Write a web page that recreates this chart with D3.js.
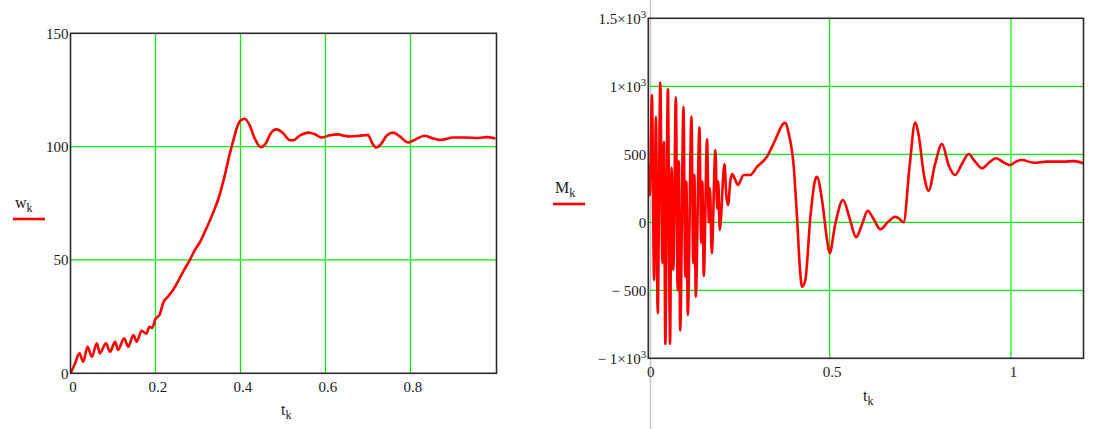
<!DOCTYPE html>
<html>
<head>
<meta charset="utf-8">
<script src="https://cdn.jsdelivr.net/npm/d3@7/dist/d3.min.js"></script>
<style>
  html, body { margin: 0; padding: 0; background: #fff; }
  svg { display: block; }
  text { font-family: "Liberation Serif", "Times New Roman", serif; fill: #1a1a1a; }
</style>
</head>
<body>
<svg id="chart" width="1104" height="429"></svg>
<script>
// ---- Left chart data: w_k vs t_k ----
const wT = [0, 0.010, 0.021, 0.030, 0.040, 0.050, 0.062, 0.069, 0.0835, 0.093, 0.105, 0.112, 0.126, 0.136, 0.148, 0.156, 0.167, 0.178, 0.186, 0.192, 0.200, 0.210, 0.218, 0.230, 0.242, 0.250, 0.260, 0.270, 0.281, 0.290, 0.305, 0.320, 0.336, 0.348, 0.360, 0.375, 0.385, 0.391, 0.400, 0.410, 0.420, 0.435, 0.4475, 0.460, 0.470, 0.485, 0.500, 0.516, 0.524, 0.540, 0.560, 0.575, 0.591, 0.610, 0.630, 0.645, 0.658, 0.680, 0.700, 0.710, 0.720, 0.730, 0.745, 0.760, 0.775, 0.795, 0.810, 0.834, 0.850, 0.869, 0.880, 0.900, 0.930, 0.960, 0.980, 0.995, 1.000];
const wVals = [0, 4, 8.8, 5.1, 11.7, 7.3, 13.2, 8.8, 13.2, 9.5, 13.9, 10.3, 15.4, 11.7, 16.9, 13.9, 18.8, 17.5, 20.5, 20, 24, 26, 31, 34, 37, 39.5, 43, 46.5, 50, 53.5, 58, 64, 71, 77, 85, 97, 104, 108, 111.5, 112.3, 110, 103, 99.8, 101.5, 105.5, 107.6, 106, 102.8, 102.8, 105, 106.2, 105.5, 104, 105, 105.4, 104.8, 104.5, 104.8, 105.2, 101.5, 99.6, 101, 105, 106.2, 104.5, 101.8, 103, 104.8, 103.8, 103, 103.2, 104, 104, 103.8, 104.2, 103.8, 103.6];
const wXTicks = [0, 0.2, 0.4, 0.6, 0.8];
const wXTickLabels = ["0", "0.2", "0.4", "0.6", "0.8"];
const wYTicks = [0, 50, 100, 150];
const wYTickLabels = ["0", "50", "100", "150"];

// ---- Right chart data: M_k vs t_k ----
const mT = [0, 0.004, 0.010, 0.016, 0.021, 0.026, 0.033, 0.039, 0.043, 0.047, 0.054, 0.060, 0.064, 0.069, 0.076, 0.081, 0.084, 0.088, 0.097, 0.102, 0.105, 0.109, 0.119, 0.124, 0.127, 0.131, 0.141, 0.146, 0.149, 0.153, 0.162, 0.167, 0.170, 0.175, 0.185, 0.190, 0.193, 0.197, 0.210, 0.215, 0.220, 0.226, 0.231, 0.240, 0.247, 0.263, 0.281, 0.300, 0.327, 0.350, 0.373, 0.378, 0.387, 0.401, 0.410, 0.419, 0.424, 0.433, 0.447, 0.460, 0.465, 0.479, 0.493, 0.500, 0.515, 0.537, 0.555, 0.573, 0.590, 0.605, 0.620, 0.640, 0.660, 0.681, 0.690, 0.704, 0.720, 0.736, 0.745, 0.760, 0.773, 0.790, 0.810, 0.828, 0.846, 0.865, 0.883, 0.900, 0.920, 0.940, 0.959, 0.980, 0.998, 1.015, 1.030, 1.062, 1.099, 1.145, 1.173, 1.200];
const mVals = [420, 200, 936, -425, 776, -669, 1027, -300, 590, -895, 978, -895, 400, -350, 919, -500, 450, -797, 850, -400, 300, -682, 777, -300, 350, -547, 698, -150, 300, -395, 610, 0, 250, -228, 532, 100, 300, -57, 429, 200, 127, 300, 355, 311, 274, 348, 348, 409, 482, 605, 728, 732, 654, 409, 41, -373, -474, -424, 41, 311, 335, 164, -130, -228, -20, 164, 30, -110, -10, 85, 30, -51, 0, 41, 30, 0, 400, 735, 650, 350, 232, 420, 576, 420, 348, 430, 502, 450, 397, 440, 471, 440, 421, 448, 458, 438, 446, 446, 450, 434];
const mXTicks = [0, 0.5, 1];
const mXTickLabels = ["0", "0.5", "1"];
const mYTicks = [1500, 1000, 500, 0, -500, -1000];
// [mantissa text, superscript or ""]
const mYTickLabels = [["1.5\u00d710", "3"], ["1\u00d710", "3"], ["500", ""], ["0", ""], ["\u2212 500", ""], ["\u2212 1\u00d710", "3"]];

const svg = d3.select("#chart");
const GRID = "#00ee00";
const LINE = "#ff0000";
const FRAME = "#2a2a2a";

function drawChart(cfg) {
  const g = svg.append("g");
  const x = d3.scaleLinear().domain(cfg.xDomain).range(cfg.xRange);
  const y = d3.scaleLinear().domain(cfg.yDomain).range(cfg.yRange);
  const [x0, x1] = cfg.xRange;
  const [yb, yt] = cfg.yRange;

  // grid
  g.selectAll(".vg").data(cfg.xGrid).enter().append("line")
    .attr("x1", d => x(d)).attr("x2", d => x(d))
    .attr("y1", yt).attr("y2", yb)
    .attr("stroke", GRID).attr("stroke-width", 1.2);
  g.selectAll(".hg").data(cfg.yGrid).enter().append("line")
    .attr("x1", x0).attr("x2", x1)
    .attr("y1", d => y(d)).attr("y2", d => y(d))
    .attr("stroke", GRID).attr("stroke-width", 1.2);

  // data line
  const pts = cfg.tx.map((t, i) => [t, cfg.vy[i]]);
  const clipId = "clip" + cfg.id;
  svg.append("clipPath").attr("id", clipId).append("rect")
    .attr("x", x0).attr("y", yt).attr("width", x1 - x0).attr("height", yb - yt);
  g.append("path")
    .datum(pts)
    .attr("clip-path", `url(#${clipId})`)
    .attr("fill", "none")
    .attr("stroke", LINE)
    .attr("stroke-width", 2.6)
    .attr("stroke-linejoin", "round")
    .attr("d", d3.line().curve(d3.curveMonotoneX).x(d => x(d[0])).y(d => y(d[1])));

  // frame
  g.append("rect")
    .attr("x", x0).attr("y", yt).attr("width", x1 - x0).attr("height", yb - yt)
    .attr("fill", "none").attr("stroke", FRAME).attr("stroke-width", 1.6);

  // x tick labels
  g.selectAll(".xt").data(cfg.xTicks).enter().append("text")
    .attr("x", d => x(d) + 2.5)
    .attr("y", yb + 13)
    .attr("dy", "0.35em")
    .attr("text-anchor", "middle")
    .attr("font-size", 15)
    .text((d, i) => cfg.xTickLabels[i]);

  // y tick labels
  cfg.yTicks.forEach((d, i) => {
    const lab = cfg.yTickLabels[i];
    const t = g.append("text")
      .attr("x", x0 - 2)
      .attr("y", y(d))
      .attr("dy", "0.35em")
      .attr("text-anchor", "end")
      .attr("font-size", 15);
    if (Array.isArray(lab)) {
      t.append("tspan").text(lab[0]);
      if (lab[1]) t.append("tspan").attr("font-size", 11).attr("dy", "-6").text(lab[1]);
    } else {
      t.text(lab);
    }
  });

  // x axis title t_k
  const xt = g.append("text").attr("x", cfg.xTitle[0]).attr("y", cfg.xTitle[1]).attr("font-size", 16);
  xt.append("tspan").text("t");
  xt.append("tspan").attr("font-size", 12).attr("dy", 4).text("k");

  // legend / y title
  const yl = g.append("text").attr("x", cfg.yTitle[0]).attr("y", cfg.yTitle[1]).attr("font-size", 16);
  yl.append("tspan").text(cfg.yName);
  yl.append("tspan").attr("font-size", 12).attr("dy", 4).text("k");
  g.append("line")
    .attr("x1", cfg.legendLine[0]).attr("x2", cfg.legendLine[1])
    .attr("y1", cfg.legendLine[2]).attr("y2", cfg.legendLine[2])
    .attr("stroke", LINE).attr("stroke-width", 2.6);
}

// right chart vertical gray cursor line
svg.append("line").attr("x1", 650.5).attr("x2", 650.5).attr("y1", 0).attr("y2", 429)
  .attr("stroke", "#c4c4c4").attr("stroke-width", 1.5);

drawChart({
  id: "w",
  tx: wT, vy: wVals,
  xDomain: [0, 1.0025], xRange: [70.5, 496.5],
  yDomain: [0, 150], yRange: [373.3, 33.3],
  xGrid: [0.2, 0.4, 0.6, 0.8], yGrid: [50, 100],
  xTicks: wXTicks, xTickLabels: wXTickLabels,
  yTicks: wYTicks, yTickLabels: wYTickLabels,
  xTitle: [281, 415], yTitle: [15, 208], yName: "w",
  legendLine: [13, 45, 219]
});

drawChart({
  id: "m",
  tx: mT, vy: mVals,
  xDomain: [0, 1.2], xRange: [648.3, 1083.5],
  yDomain: [-1000, 1500], yRange: [358.3, 18.3],
  xGrid: [0.5, 1], yGrid: [1000, 500, 0, -500],
  xTicks: mXTicks, xTickLabels: mXTickLabels,
  yTicks: mYTicks, yTickLabels: mYTickLabels,
  xTitle: [863, 401], yTitle: [555, 193], yName: "M",
  legendLine: [553, 585, 204]
});
</script>
</body>
</html>
